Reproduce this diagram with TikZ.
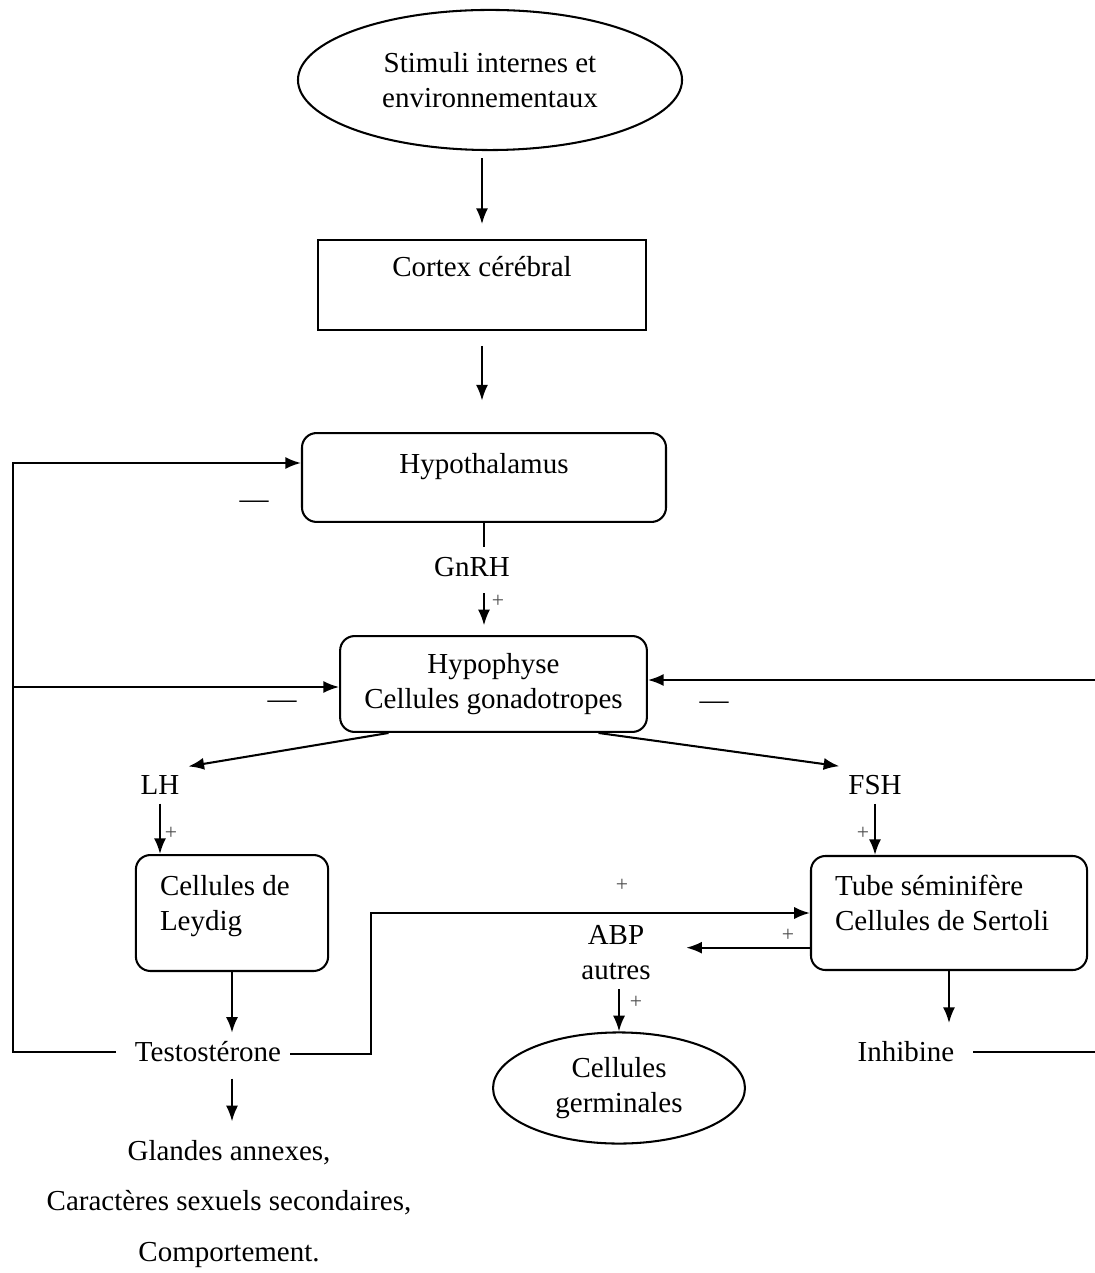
\documentclass[tikz,border=0pt]{standalone}
\usepackage{fontspec}
\setmainfont{Liberation Serif}
\usetikzlibrary{shapes.geometric,arrows.meta}

\tikzset{
  every node/.style={font=\fontsize{12}{14.5}\selectfont},
  arr/.style={-{Latex[length=6.5pt,width=5pt]}},
  rbox/.style={draw,rounded corners=6pt,inner sep=3.3pt},
  oval/.style={draw,ellipse,align=center,inner sep=0pt},
  sign/.style={font=\fontsize{9}{10}\selectfont,text=black!70},
  moins/.style={font=\fontsize{12}{14}\selectfont}
}

\begin{document}
\begin{tikzpicture}[x=0.414pt,y=-0.414pt,line width=0.85pt]
    \useasboundingbox (0,0) rectangle (1094,1273);

    \node[oval,minimum width=159pt,minimum height=58pt] (stim) at (490,80) {Stimuli internes et\\environnementaux};
    \node[draw,line width=1.1pt,minimum width=135.8pt,minimum height=37.3pt,text height=9pt,text depth=16pt] (cortex) at (482,285) {Cortex cérébral};
    \node[rbox,minimum width=150.7pt,minimum height=36.8pt,text height=9pt,text depth=12.4pt] (hyp) at (484,477.5) {Hypothalamus};
    \node (gnrh) at (472,567) {GnRH};
    \node[rbox,minimum width=127pt,minimum height=39.7pt,align=center] (hypo) at (493.5,684) {Hypophyse\\Cellules gonadotropes};

    \draw[arr,shorten <=3pt,shorten >=6pt] (cortex.north |- stim.south) -- (cortex.north);
    \draw[arr,shorten <=6pt,shorten >=13pt] (cortex.south) -- (cortex.south |- hyp.north);
    \draw (hyp.south) -- ([yshift=-10pt]hyp.south);
    \draw[arr,shorten <=3pt,shorten >=4pt] (hyp.south |- gnrh.south) -- (hyp.south |- hypo.north);
    \node[sign] (p1) at (498,601) {+};

    \node (lh) at (160,785) {LH};
    \node (fsh) at (875,785) {FSH};
    \draw[arr] (hypo.-155.5) -- (lh.north east);
    \draw[arr] (hypo.-25) -- (fsh.north west);

    \node[rbox,text width=59.6pt,inner xsep=10pt,minimum height=48pt,align=flush left] (leyd) at (232,913) {Cellules de\\Leydig\\[-6pt]~};
    \node[rbox,text width=94.3pt,inner xsep=10pt,minimum height=47.2pt,align=flush left] (sert) at (949,913) {Tube séminifère\\Cellules de Sertoli\\[-6pt]~};
    \draw[arr] (lh.south) -- (lh.south |- leyd.north);
    \node[sign] (p2) at (171,833) {+};
    \draw[arr] (fsh.south) -- (fsh.south |- sert.north);
    \node[sign] (p3) at (863,833) {+};

    \node (testo) at (208,1052) {Testostérone};
    \node (inhib) at (906,1052) {Inhibine};
    \node[align=center,font=\fontsize{12}{21}\selectfont] (eff) at (229,1204) {Glandes annexes,\\Caractères sexuels secondaires,\\Comportement.};
    \node[align=center] (abp) at (616,953) {ABP\\autres};
    \node[oval,minimum width=104.3pt,minimum height=46pt] (germ) at (619,1088) {Cellules\\germinales};

    \draw[arr] (leyd.south) -- (leyd.south |- testo.north);
    \draw[arr,shorten <=3pt,shorten >=4pt] (leyd.south |- testo.south) -- (leyd.south |- eff.north);
    \draw[arr,shorten >=11pt] (sert.194) -- (sert.194 -| abp.east);
    \node[sign] (p4) at (788,935) {+};
    \draw[arr] (germ.north |- abp.south) -- (germ.north);
    \node[sign] (p5) at (636,1002) {+};
    \draw[arr,shorten >=4pt] (sert.south) -- (sert.south |- inhib.north);

    % boucles de retroaction
    \coordinate (lt) at (13,463);
    \coordinate (lm) at (13,687);
    \coordinate (tk) at (371,913);
    \coordinate (rt) at (1098,680);
    \draw[arr] ([xshift=-4pt]testo.west) -- (testo.west -| lt) -- (lt) -- (lt -| hyp.west);
    \draw[arr] (lm) -- (lm -| hypo.west);
    \draw[arr] ([yshift=-1pt]testo.east) -- ([yshift=-1pt]testo.east -| tk) -- (tk) -- (tk -| sert.west);
    \node[sign] (p6) at (622,885) {+};
    \draw[arr] ([xshift=4pt]inhib.east) -- (inhib.east -| rt) -- (rt) -- (rt -| hypo.east);

    \node[moins] (m1) at (254,505) {—};
    \node[moins] (m2) at (282,705) {—};
    \node[moins] (m3) at (714,706) {—};
  \end{tikzpicture}
\end{document}
